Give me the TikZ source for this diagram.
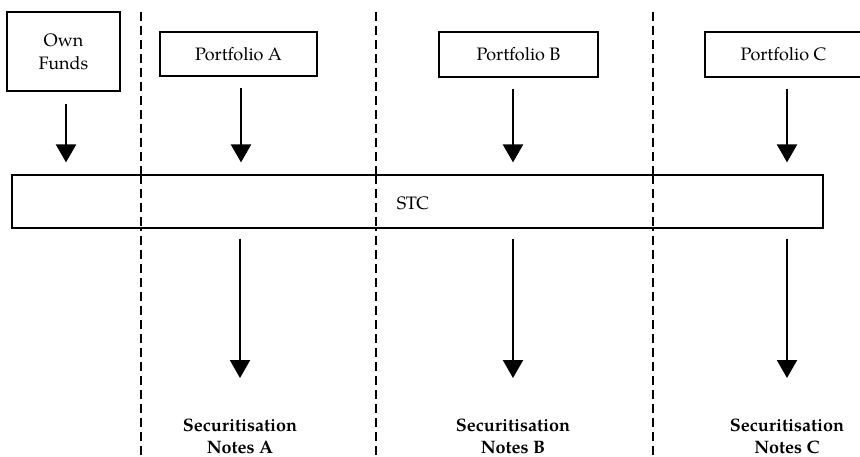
\documentclass[tikz,border=0pt]{standalone}
\usepackage{fontspec}
\setmainfont{TeX Gyre Pagella}
\usetikzlibrary{arrows.meta}
\begin{document}
\begin{tikzpicture}[x=1pt,y=-1pt,
  box/.style={draw,line width=1.2pt,inner sep=0pt,align=center,
    font=\fontsize{18}{23}\selectfont},
  label/.style={align=center,font=\fontsize{18}{22}\selectfont\bfseries},
  flow/.style={line width=2.2pt,-{Triangle[width=20pt,length=18pt]}},
  divider/.style={line width=1.8pt,dash pattern=on 9pt off 5pt}]
  \useasboundingbox (0,0) rectangle (860,457);

  % column dividers
  \draw[divider] (141,12) -- (141,457);
  \draw[divider] (376,12) -- (376,457);
  \draw[divider] (653,12) -- (653,457);

  % sources
  \node[box,minimum width=113pt,minimum height=79pt] (own) at (63.5,51.5) {Own\\Funds};
  \node[box,minimum width=157pt,minimum height=44pt] (pa) at (238.5,54) {Portfolio A};
  \node[box,minimum width=159pt,minimum height=45pt] (pb) at (518.5,54.5) {Portfolio B};
  \node[box,minimum width=157pt,minimum height=45pt] (pc) at (783.5,54.5) {Portfolio C};

  % issuing vehicle
  \node[box,fill=white,minimum width=811pt,minimum height=53pt] (stc) at (417.5,201.5) {};
  \node[font=\fontsize{18}{22}\selectfont] (stct) at (413,203) {STC};
  \draw[divider] (141,175) -- (141,228);
  \draw[divider] (376,175) -- (376,228);
  \draw[divider] (653,175) -- (653,228);

  % note classes
  \node[label] (na) at (240,436) {Securitisation\\Notes A};
  \node[label] (nb) at (513,436) {Securitisation\\Notes B};
  \node[label] (nc) at (787,436) {Securitisation\\Notes C};

  % inflows
  \draw[flow,shorten <=12pt,shorten >=12pt] ([xshift=2.5pt]own.south) -- ([xshift=2.5pt]own.south |- stc.north);
  \draw[flow,shorten <=11pt,shorten >=12pt] ([xshift=2.5pt]pa.south) -- ([xshift=2.5pt]pa.south |- stc.north);
  \draw[flow,shorten <=11pt,shorten >=12pt] ([xshift=-5.5pt]pb.south) -- ([xshift=-5.5pt]pb.south |- stc.north);
  \draw[flow,shorten <=11pt,shorten >=12pt] ([xshift=3.5pt]pc.south) -- ([xshift=3.5pt]pc.south |- stc.north);

  % outflows
  \draw[flow,shorten <=10pt] (na |- stc.south) -- (na.north |- 0,378);
  \draw[flow,shorten <=10pt] (nb |- stc.south) -- (nb.north |- 0,378);
  \draw[flow,shorten <=10pt] (nc |- stc.south) -- (nc.north |- 0,378);
\end{tikzpicture}
\end{document}
